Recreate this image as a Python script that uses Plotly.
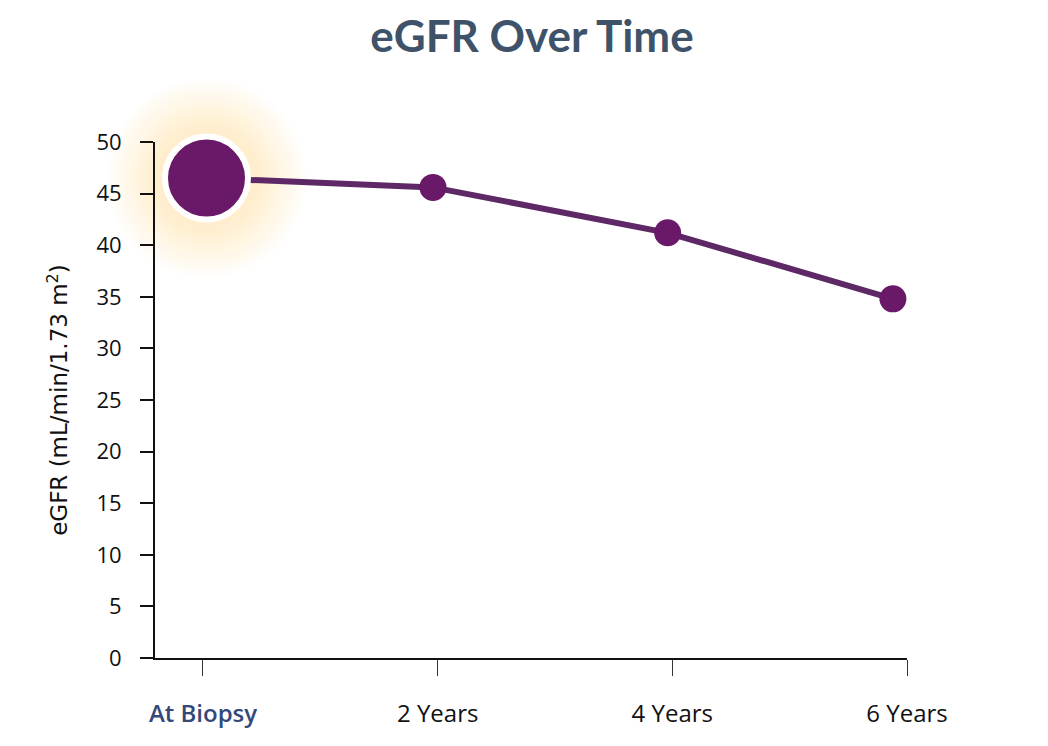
import plotly.graph_objects as go

# data
timepoints = [0.03, 1.96, 3.96, 5.88]          # years after biopsy
egfr = [46.5, 45.6, 41.2, 34.8]                # mL/min/1.73 m2
tick_years = [0, 2, 4, 6]
tick_labels = ["At Biopsy", "2 Years", "4 Years", "6 Years"]
y_ticks = list(range(0, 55, 5))

PURPLE = "#6a1868"
LINE = "#5e2866"
TITLE = "#3e5369"
FONT = "Lato, 'Open Sans', sans-serif"
TICKFONT = "'Open Sans', sans-serif"

fig = go.Figure()

# soft glow behind the first point (stacked translucent discs)
for i in range(18):
    size = 200 - i * 6
    fig.add_trace(go.Scatter(x=[timepoints[0]], y=[egfr[0]], mode="markers", cliponaxis=False,
                             marker=dict(size=size, color="rgba(244,200,125,0.024)", line=dict(width=0)),
                             hoverinfo="skip", showlegend=False))

fig.add_trace(go.Scatter(x=timepoints, y=egfr, mode="lines", cliponaxis=False,
                         line=dict(color=LINE, width=6), hoverinfo="skip", showlegend=False))

fig.add_trace(go.Scatter(x=timepoints[1:], y=egfr[1:], mode="markers", cliponaxis=False,
                         marker=dict(size=27, color=PURPLE, line=dict(width=0)),
                         showlegend=False))

fig.add_trace(go.Scatter(x=timepoints[:1], y=egfr[:1], mode="markers", cliponaxis=False,
                         marker=dict(size=83, color=PURPLE, line=dict(width=6, color="white")),
                         showlegend=False))

ticktext = [f"<span style='color:#34487a;font-weight:600'>{tick_labels[0]}</span>"] + tick_labels[1:]

fig.update_layout(
    width=1048, height=746,
    paper_bgcolor="white", plot_bgcolor="rgba(0,0,0,0)",
    margin=dict(l=147, r=149, t=134, b=96),
    font=dict(family=FONT, size=20, color="#111111"),
    title=dict(text="<b>eGFR Over Time</b>", x=0.5, xanchor="center", y=0.962, yanchor="middle",
               font=dict(family=FONT, size=44, color=TITLE)),
    xaxis=dict(range=[-0.409, 6.0], tickvals=tick_years, ticktext=ticktext,
               showgrid=False, zeroline=False, showline=True, linecolor="#111111", linewidth=2,
               ticks="outside", ticklen=16, tickwidth=1, tickcolor="#333333",
               ticklabelstandoff=17, tickfont=dict(family=TICKFONT, size=24)),
    yaxis=dict(range=[0, 50], tickvals=y_ticks,
               showgrid=False, zeroline=False, showline=True, linecolor="#111111", linewidth=2,
               ticks="outside", ticklen=13, tickwidth=2, tickcolor="#111111",
               ticklabelstandoff=14, tickfont=dict(family=TICKFONT, size=22),
               title=dict(text="eGFR (mL/min/1.73 m<sup>2</sup>)", standoff=22,
                          font=dict(family="'DejaVu Sans', sans-serif", size=23))),
)

fig.write_html("out.html")
